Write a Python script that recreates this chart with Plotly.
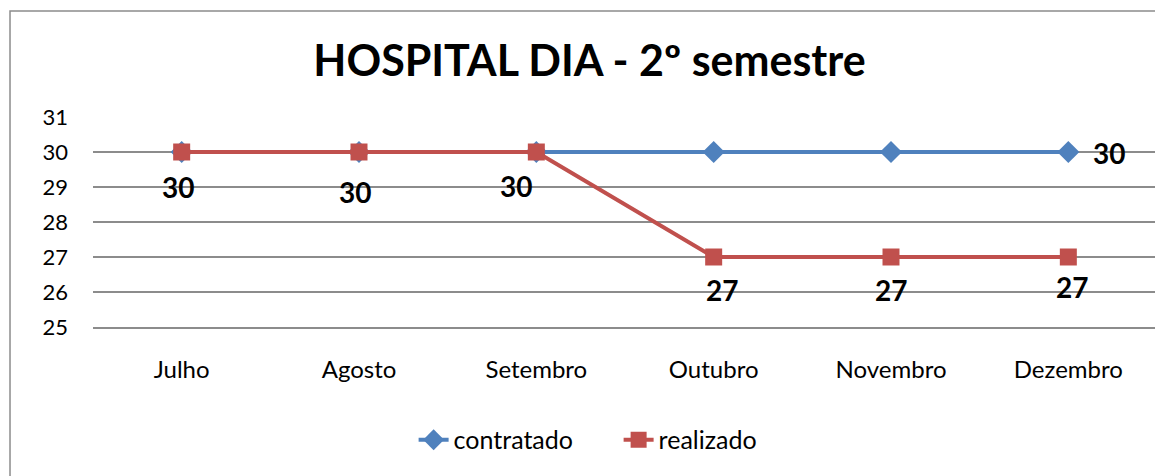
import plotly.graph_objects as go

months = ["Julho", "Agosto", "Setembro", "Outubro", "Novembro", "Dezembro"]
contratado = [30, 30, 30, 30, 30, 30]
realizado = [30, 30, 30, 27, 27, 27]
y_ticks = [25, 26, 27, 28, 29, 30, 31]

# label offsets (pixels) of the data labels relative to their points
real_dx = [-4, -4, -20, 8, 0, 4]
real_dy = [-35, -40, -34, -33, -33, -30]
contr_label_idx = [5]
contr_dx = [41]
contr_dy = [-1]

FONT = "Lato, Calibri, Carlito, sans-serif"
BLUE = "#4F81BD"
RED = "#C0504D"
GRID = "#8C8C8C"
LABEL_FONT = dict(family=FONT, size=28, color="black", weight="bold")

fig = go.Figure()
fig.add_trace(go.Scatter(
    x=months, y=contratado, name="contratado", mode="lines+markers",
    line=dict(color=BLUE, width=4),
    marker=dict(symbol="diamond", size=17, color=BLUE),
))
fig.add_trace(go.Scatter(
    x=months, y=realizado, name="realizado", mode="lines+markers",
    line=dict(color=RED, width=4),
    marker=dict(symbol="square", size=17, color=RED),
))

annotations = []
for m, v, dx, dy in zip(months, realizado, real_dx, real_dy):
    annotations.append(dict(x=m, y=v, xref="x", yref="y", text=str(v),
                            showarrow=False, xanchor="center", yanchor="middle",
                            xshift=dx, yshift=dy, font=LABEL_FONT))
for i, dx, dy in zip(contr_label_idx, contr_dx, contr_dy):
    annotations.append(dict(x=months[i], y=contratado[i], xref="x", yref="y",
                            text=str(contratado[i]), showarrow=False,
                            xanchor="center", yanchor="middle",
                            xshift=dx, yshift=dy, font=LABEL_FONT))

fig.update_layout(
    width=1163, height=476,
    margin=dict(l=85, r=14, t=109, b=157),
    paper_bgcolor="white", plot_bgcolor="white",
    font=dict(family=FONT, size=22, color="black"),
    title=dict(text="<b>HOSPITAL DIA - 2º semestre</b>", x=0.5, xanchor="center",
               y=1 - 53 / 476, yanchor="middle",
               font=dict(family=FONT, size=43, color="black")),
    showlegend=True,
    legend=dict(orientation="h", x=0.494, xanchor="center", y=-0.538, yanchor="middle",
                font=dict(family=FONT, size=25, color="black"),
                traceorder="normal", entrywidth=160, entrywidthmode="pixels"),
    annotations=annotations,
    shapes=[dict(type="rect", xref="paper", yref="paper",
                 x0=-0.078, x1=1.2, y0=-1.0, y1=1.505,
                 line=dict(color="#8C8C8C", width=1.5), fillcolor="rgba(0,0,0,0)",
                 layer="below")],
)
fig.update_xaxes(
    type="category", range=[-0.5, 5.5], showgrid=False, zeroline=False,
    showline=True, linecolor=GRID, linewidth=1.5, ticks="",
    ticklabelstandoff=20, tickfont=dict(family=FONT, size=24, color="black"),
)
fig.update_yaxes(
    range=[25, 31], tickvals=y_ticks, showgrid=True, gridcolor=GRID, gridwidth=1.5,
    zeroline=False, showline=False, ticks="",
    ticklabelstandoff=24, tickfont=dict(family=FONT, size=22, color="black"),
)

fig.write_html("out.html")
